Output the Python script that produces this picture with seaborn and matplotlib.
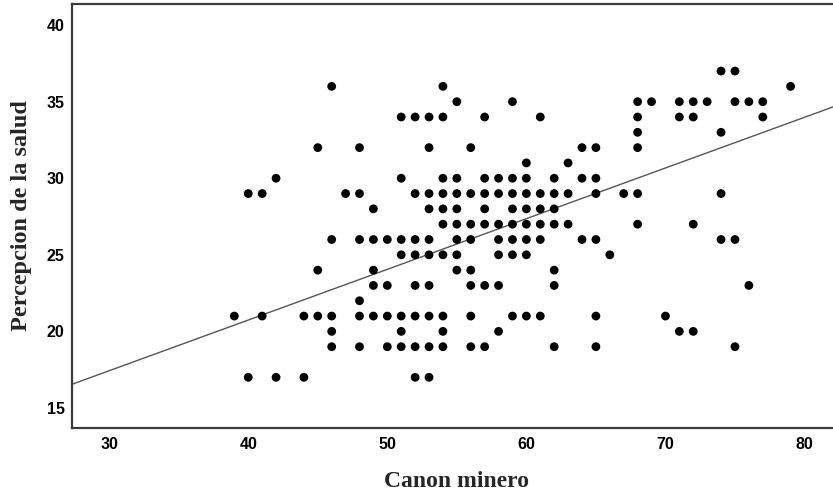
import matplotlib
matplotlib.use("Agg")
import matplotlib.pyplot as plt
import seaborn as sns
import pandas as pd

# Canon minero (x) values grouped by Percepcion de la salud (y) level
y_levels = [37, 36, 35, 34, 33, 32, 31, 30, 29, 28, 27, 26, 25, 24, 23, 22, 21, 20, 19, 17]
x_at_37 = [74, 75]
x_at_36 = [46, 54, 79]
x_at_35 = [55, 59, 68, 69, 71, 72, 73, 75, 76, 77]
x_at_34 = [51, 52, 53, 54, 57, 61, 68, 71, 72, 77]
x_at_33 = [68, 74]
x_at_32 = [45, 48, 53, 56, 64, 65, 68]
x_at_31 = [60, 63]
x_at_30 = [42, 51, 54, 55, 57, 58, 59, 60, 62, 64, 65]
x_at_29 = [40, 41, 47, 48, 52, 53, 54, 55, 56, 57, 58, 59, 60, 61, 62, 63, 65, 67, 68, 74]
x_at_28 = [49, 53, 54, 55, 57, 59, 60, 61, 62]
x_at_27 = [54, 55, 56, 57, 58, 59, 60, 61, 62, 63, 68, 72]
x_at_26 = [46, 48, 49, 50, 51, 52, 53, 55, 56, 58, 59, 60, 61, 64, 65, 74, 75]
x_at_25 = [51, 52, 53, 54, 55, 58, 59, 60, 66]
x_at_24 = [45, 49, 55, 56, 62]
x_at_23 = [49, 50, 52, 53, 56, 57, 58, 62, 76]
x_at_22 = [48]
x_at_21 = [39, 41, 44, 45, 46, 48, 49, 50, 51, 52, 53, 54, 56, 59, 60, 61, 65, 70]
x_at_20 = [46, 51, 54, 58, 71, 72]
x_at_19 = [46, 48, 50, 51, 52, 53, 54, 56, 57, 62, 65, 75]
x_at_17 = [40, 42, 44, 52, 53]

x_groups = [x_at_37, x_at_36, x_at_35, x_at_34, x_at_33, x_at_32, x_at_31, x_at_30,
            x_at_29, x_at_28, x_at_27, x_at_26, x_at_25, x_at_24, x_at_23, x_at_22,
            x_at_21, x_at_20, x_at_19, x_at_17]

# Fit line as shown in the reference (overlapping
# cases in the original data are not visible in the scatter)
fit_intercept = 7.5
fit_slope = 0.331

x_ticks = [30, 40, 50, 60, 70, 80]
y_ticks = [15, 20, 25, 30, 35, 40]

canon, percep = [], []
for yv, xs in zip(y_levels, x_groups):
    for xv in xs:
        canon.append(xv)
        percep.append(yv)
df = pd.DataFrame({"Canon minero": canon, "Percepcion de la salud": percep})

sns.set_style("white")
fig = plt.figure(figsize=(8.33, 4.92), dpi=100)
ax = fig.add_axes([0.086, 0.1307, 0.914, 0.8612])

sns.scatterplot(data=df, x="Canon minero", y="Percepcion de la salud", ax=ax,
                s=40, color="black", edgecolor="none", linewidth=0, zorder=3)
ax.axline((0, fit_intercept), slope=fit_slope, color="#555555", linewidth=1.0, zorder=2)

ax.set_xlim(27.3, 82.05)
ax.set_ylim(13.71, 41.38)

ax.set_xticks(x_ticks)
ax.set_yticks(y_ticks)
ax.tick_params(length=0)
ax.tick_params(axis="x", pad=7)
ax.tick_params(axis="y", pad=5)
for lab in ax.get_xticklabels() + ax.get_yticklabels():
    lab.set_fontfamily(["Liberation Sans", "DejaVu Sans"])
    lab.set_fontweight("bold")
    lab.set_fontsize(11.5)
    lab.set_color("black")

for side in ["left", "bottom", "top"]:
    ax.spines[side].set_color("#3a3a3a")
    ax.spines[side].set_linewidth(1.6)
ax.spines["right"].set_visible(False)

ax.set_xlabel("Canon minero", fontsize=17, fontweight="bold",
              fontfamily=["Liberation Serif", "DejaVu Serif"])
ax.set_ylabel("Percepcion de la salud", fontsize=17.5, fontweight="bold",
              fontfamily=["Liberation Serif", "DejaVu Serif"])
ax.xaxis.label.set_va("center")
ax.yaxis.label.set_va("center")
ax.xaxis.set_label_coords(0.506, -0.126)
ax.yaxis.set_label_coords(-0.0653, 0.5)

fig.savefig("out.png", dpi=100)
